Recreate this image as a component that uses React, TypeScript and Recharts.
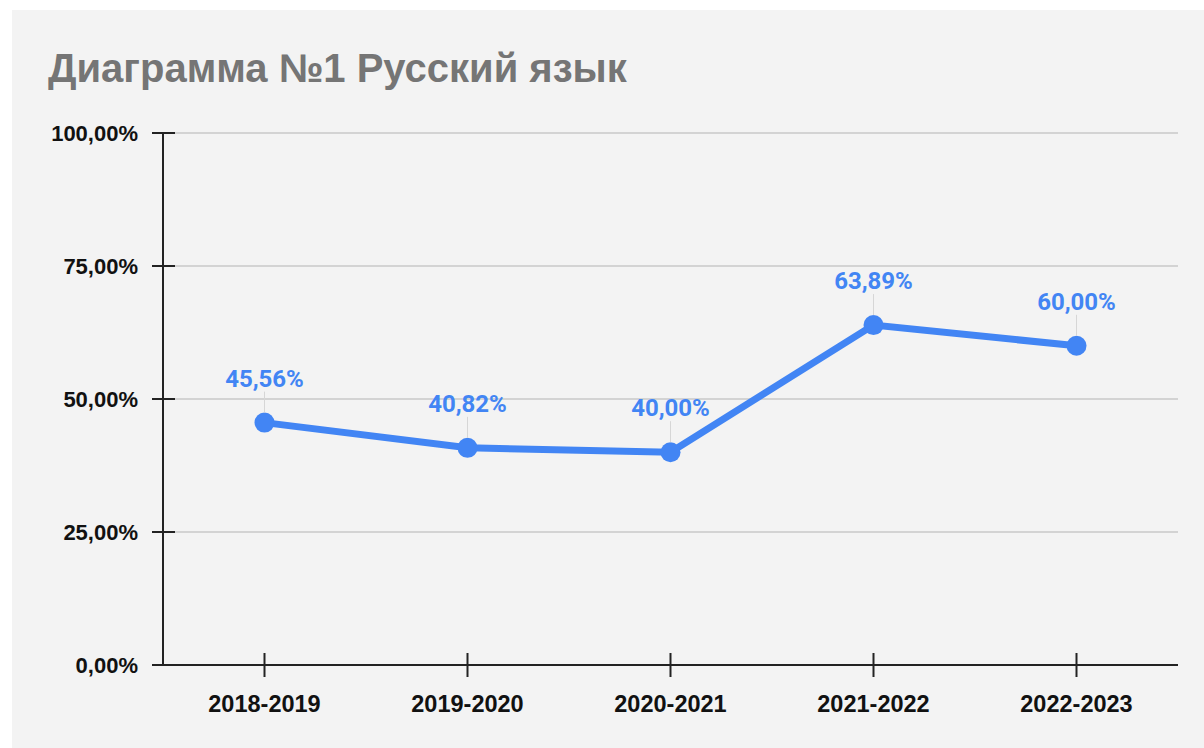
import React from "react";
import {
  LineChart,
  Line,
  XAxis,
  YAxis,
  CartesianGrid,
  LabelList,
} from "recharts";

// school years and share of students (percent)
const years = ["2018-2019", "2019-2020", "2020-2021", "2021-2022", "2022-2023"];
const shares = [45.56, 40.82, 40.0, 63.89, 60.0];
const yTicks = [0, 25, 50, 75, 100];

const data = years.map((year, i) => ({ year, share: shares[i] }));

const BLUE = "#4285f4";
const AXIS = "#222222";
const TICK_FONT = "'Liberation Sans', Arial, sans-serif";

function fmt(v: number): string {
  return v.toFixed(2).replace(".", ",") + "%";
}

function YTick(props: any) {
  const { x, y, payload } = props;
  return (
    <g>
      <line x1={x - 11} x2={x + 12} y1={y} y2={y} stroke={AXIS} strokeWidth={2} />
      <text
        x={x - 25}
        y={y}
        dy={8}
        textAnchor="end"
        fontFamily={TICK_FONT}
        fontWeight="bold"
        fontSize={22}
        fill="#111"
      >
        {fmt(payload.value)}
      </text>
    </g>
  );
}

function XTick(props: any) {
  const { x, y, payload } = props;
  return (
    <g>
      <line x1={x} x2={x} y1={y - 12} y2={y + 12} stroke={AXIS} strokeWidth={2} />
      <text
        x={x}
        y={y + 47}
        textAnchor="middle"
        fontFamily={TICK_FONT}
        fontWeight="bold"
        fontSize={23.5}
        fill="#111"
      >
        {payload.value}
      </text>
    </g>
  );
}

function PointLabel(props: any) {
  const { x, y, value } = props;
  return (
    <g>
      <line x1={x} x2={x} y1={y - 31} y2={y - 10} stroke="#d6d6d6" strokeWidth={1} />
      <text
        x={x}
        y={y - 36}
        textAnchor="middle"
        fontFamily="Roboto, sans-serif"
        fontWeight="bold"
        fontSize={24}
        fill={BLUE}
      >
        {fmt(value)}
      </text>
    </g>
  );
}

export default function App() {
  return (
    <div
      style={{
        position: "absolute",
        left: 12,
        top: 10,
        width: 1192,
        height: 738,
        background: "#f3f3f3",
      }}
    >
      <div
        style={{
          position: "absolute",
          left: 36,
          top: 38,
          fontFamily: TICK_FONT,
          fontWeight: "bold",
          fontSize: 40,
          lineHeight: "40px",
          color: "#757575",
          whiteSpace: "nowrap",
        }}
      >
        Диаграмма №1 Русский язык
      </div>
      <LineChart
        width={1192}
        height={738}
        data={data}
        margin={{ top: 123, right: 26, bottom: 0, left: 0 }}
      >
        <CartesianGrid vertical={false} stroke="#c8c8c8" strokeWidth={1.5} />
        <XAxis
          dataKey="year"
          height={83}
          padding={{ left: 101.5, right: 101.5 }}
          axisLine={{ stroke: AXIS, strokeWidth: 2 }}
          tickLine={false}
          tickSize={0}
          tickMargin={0}
          tick={<XTick />}
          interval={0}
        />
        <YAxis
          width={151}
          domain={[0, 100]}
          ticks={yTicks}
          axisLine={{ stroke: AXIS, strokeWidth: 2 }}
          tickLine={false}
          tickSize={0}
          tickMargin={0}
          tick={<YTick />}
          interval={0}
        />
        <Line
          dataKey="share"
          stroke={BLUE}
          strokeWidth={7}
          dot={{ r: 10, fill: BLUE, stroke: "none" }}
          activeDot={false}
          isAnimationActive={false}
        >
          <LabelList dataKey="share" content={<PointLabel />} />
        </Line>
      </LineChart>
    </div>
  );
}
